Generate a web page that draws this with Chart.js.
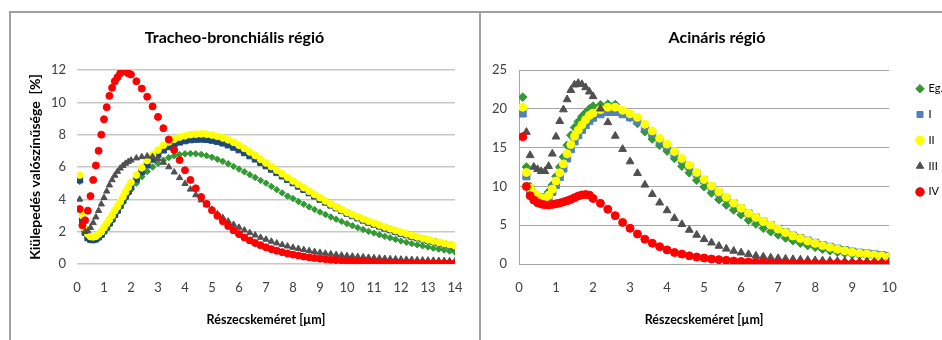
<!DOCTYPE html>
<html><head><meta charset="utf-8">
<script src="https://cdn.jsdelivr.net/npm/chart.js@4.4.1/dist/chart.umd.min.js"></script>
<style>
html,body{margin:0;padding:0;background:#fff;width:942px;height:340px;overflow:hidden;}
.frame{position:absolute;border:2px solid #a0a0a0;border-bottom:none;box-sizing:border-box;}
#f1{left:9px;top:11px;width:472px;height:340px;}
#f2{left:479px;top:11px;width:470px;height:340px;border-right:none;}
canvas{position:absolute;}
#c1{left:10px;top:12px;}
#c2{left:481px;top:12px;}
</style></head>
<body>
<div class="frame" id="f1"></div><div class="frame" id="f2"></div>
<canvas id="c1" width="469" height="328"></canvas>
<canvas id="c2" width="472" height="328"></canvas>
<script>
// ---------- Tracheo-bronchiális régió ----------
const xLeft = [0.1,0.2,0.3,0.4,0.5,0.6,0.7,0.8,0.9,1.0,
  1.1,1.2,1.3,1.4,1.5,1.6,1.7,1.8,1.9,2.0,
  2.2,2.4,2.6,2.8,3.0,3.2,3.4,3.6,3.8,4.0,
  4.2,4.4,4.6,4.8,5.0,5.2,5.4,5.6,5.8,6.0,
  6.2,6.4,6.6,6.8,7.0,7.2,7.4,7.6,7.8,8.0,
  8.2,8.4,8.6,8.8,9.0,9.2,9.4,9.6,9.8,10.0,
  10.2,10.4,10.6,10.8,11.0,11.2,11.4,11.6,11.8,12.0,
  12.2,12.4,12.6,12.8,13.0,13.2,13.4,13.6,13.8,14.0];
const egLeft = [5.1,2.8,2.0,1.65,1.5,1.48,1.52,1.62,1.78,1.98,
  2.2,2.45,2.7,2.97,3.25,3.52,3.8,4.08,4.35,4.6,
  5.0,5.4,5.72,6.0,6.22,6.42,6.58,6.7,6.77,6.82,
  6.83,6.82,6.78,6.7,6.6,6.48,6.35,6.2,6.04,5.87,
  5.7,5.52,5.35,5.17,5.0,4.8,4.6,4.4,4.2,4.05,
  3.87,3.7,3.53,3.37,3.21,3.06,2.91,2.77,2.63,2.5,
  2.37,2.25,2.13,2.02,1.91,1.81,1.71,1.62,1.53,1.42,
  1.34,1.26,1.19,1.12,1.05,0.98,0.92,0.86,0.8,0.75];
const iLeft = [5.2,2.75,1.95,1.62,1.52,1.5,1.55,1.67,1.83,2.05,
  2.28,2.53,2.78,3.06,3.33,3.62,3.92,4.2,4.5,4.8,
  5.25,5.7,6.12,6.48,6.78,7.05,7.25,7.42,7.54,7.62,
  7.68,7.71,7.72,7.7,7.65,7.58,7.48,7.36,7.22,7.06,
  6.88,6.69,6.49,6.28,6.07,5.86,5.65,5.44,5.23,5.02,
  4.81,4.61,4.4,4.2,4.0,3.82,3.64,3.47,3.3,3.14,
  2.99,2.85,2.71,2.58,2.46,2.34,2.22,2.11,2.0,1.9,
  1.8,1.71,1.62,1.54,1.46,1.38,1.3,1.23,1.16,1.05];
const iiLeft = [5.5,3.0,2.2,1.85,1.7,1.68,1.72,1.85,2.0,2.25,
  2.5,2.75,3.0,3.3,3.55,3.85,4.15,4.45,4.75,5.05,
  5.5,5.95,6.4,6.75,7.05,7.35,7.55,7.72,7.85,7.93,
  8.0,8.03,8.05,8.03,7.98,7.9,7.8,7.68,7.53,7.35,
  7.15,6.93,6.71,6.48,6.25,6.03,5.8,5.58,5.36,5.14,
  4.93,4.72,4.5,4.3,4.1,3.9,3.71,3.53,3.36,3.2,
  3.06,2.92,2.78,2.65,2.53,2.41,2.29,2.18,2.07,1.97,
  1.87,1.77,1.68,1.59,1.5,1.42,1.34,1.27,1.2,1.12];
const iiiLeft = [4.0,2.4,2.0,2.05,2.25,2.55,2.9,3.3,3.7,4.1,
  4.5,4.88,5.2,5.48,5.72,5.92,6.08,6.22,6.33,6.42,
  6.55,6.63,6.67,6.64,6.5,6.28,6.0,5.68,5.33,4.97,
  4.62,4.27,3.95,3.65,3.37,3.1,2.86,2.64,2.44,2.26,
  2.09,1.93,1.78,1.64,1.52,1.4,1.29,1.19,1.1,1.02,
  0.95,0.88,0.82,0.76,0.71,0.66,0.62,0.58,0.54,0.51,
  0.48,0.45,0.43,0.4,0.38,0.36,0.34,0.32,0.31,0.29,
  0.28,0.27,0.25,0.24,0.23,0.22,0.21,0.2,0.19,0.18];
const ivLeft = [3.4,2.4,2.7,3.3,4.2,5.2,6.1,7.0,8.0,8.95,
  9.7,10.4,10.9,11.3,11.55,11.8,11.95,11.9,11.8,11.72,
  11.3,10.85,10.35,9.75,9.1,8.4,7.7,7.05,6.43,5.8,
  5.2,4.68,4.15,3.72,3.32,2.98,2.65,2.35,2.08,1.85,
  1.64,1.46,1.3,1.16,1.03,0.92,0.82,0.73,0.65,0.58,
  0.52,0.46,0.41,0.37,0.33,0.3,0.27,0.24,0.22,0.2,
  0.18,0.16,0.15,0.13,0.12,0.11,0.1,0.09,0.08,0.08,
  0.07,0.06,0.06,0.05,0.05,0.05,0.04,0.04,0.04,0.03];

// ---------- Acináris régió ----------
const xRight = [0.1,0.2,0.3,0.4,0.5,0.6,0.7,0.8,0.9,1.0,
  1.1,1.2,1.3,1.4,1.5,1.6,1.7,1.8,1.9,2.0,
  2.2,2.4,2.6,2.8,3.0,3.2,3.4,3.6,3.8,4.0,
  4.2,4.4,4.6,4.8,5.0,5.2,5.4,5.6,5.8,6.0,
  6.2,6.4,6.6,6.8,7.0,7.2,7.4,7.6,7.8,8.0,
  8.2,8.4,8.6,8.8,9.0,9.2,9.4,9.6,9.8,10.0];
const egRight = [21.5,12.5,10.0,9.2,8.8,8.6,8.7,9.3,10.2,11.3,
  12.5,13.8,15.3,16.6,17.6,18.35,19.0,19.5,20.0,20.35,
  20.5,20.6,20.55,19.6,18.9,18.1,17.05,16.1,15.3,14.55,
  13.6,12.6,11.75,10.8,9.95,9.15,8.3,7.6,6.95,6.35,
  5.65,5.15,4.6,4.15,3.75,3.35,3.0,2.68,2.38,2.15,
  1.9,1.7,1.52,1.38,1.25,1.13,1.03,0.94,0.86,0.76];
const iRight = [19.4,11.3,9.5,8.9,8.55,8.35,8.3,8.6,9.3,10.2,
  11.2,12.3,13.6,14.8,15.8,16.6,17.3,17.9,18.45,18.85,
  19.3,19.6,19.6,19.3,18.9,18.45,17.6,16.8,15.9,15.15,
  14.25,13.4,12.55,11.65,10.8,9.95,9.2,8.5,7.8,7.15,
  6.52,5.98,5.46,5.02,4.52,4.08,3.66,3.35,3.02,2.73,
  2.45,2.22,1.98,1.8,1.6,1.46,1.36,1.24,1.14,1.04];
const iiRight = [20.2,11.8,9.8,9.1,8.75,8.5,8.45,8.85,9.65,10.7,
  11.75,12.9,14.2,15.4,16.45,17.25,17.95,18.6,19.15,19.45,
  19.9,20.2,20.2,19.8,19.35,18.9,18.0,17.15,16.2,15.45,
  14.5,13.6,12.75,11.8,10.9,10.05,9.3,8.6,7.85,7.2,
  6.55,6.0,5.47,5.02,4.5,4.05,3.62,3.3,2.96,2.66,
  2.38,2.15,1.9,1.72,1.52,1.38,1.28,1.16,1.06,0.95];
const iiiRight = [16.4,17.0,14.0,12.5,12.2,11.95,11.95,12.6,14.2,16.4,
  18.4,19.9,21.2,22.4,23.1,23.3,23.15,22.75,22.2,21.6,
  20.0,18.25,16.5,14.8,13.2,11.7,10.2,9.0,7.9,6.9,
  5.9,5.12,4.38,3.74,3.18,2.74,2.32,1.95,1.68,1.46,
  1.25,1.05,0.94,0.82,0.73,0.66,0.6,0.55,0.5,0.46,
  0.43,0.4,0.37,0.35,0.33,0.31,0.3,0.28,0.27,0.26];
const ivRight = [16.4,10.0,8.8,8.25,7.9,7.73,7.62,7.6,7.68,7.76,
  7.86,8.0,8.14,8.32,8.55,8.75,8.9,8.96,8.88,8.45,
  7.82,7.05,6.23,5.35,4.6,3.87,3.2,2.68,2.23,1.82,
  1.48,1.28,1.05,0.9,0.77,0.64,0.56,0.47,0.38,0.32,
  0.27,0.23,0.2,0.17,0.15,0.13,0.12,0.11,0.1,0.09,
  0.08,0.07,0.07,0.06,0.06,0.05,0.05,0.05,0.04,0.04];

const seriesLabels = ['Eg.', 'I', 'II', 'III', 'IV'];
const xTicksLeft = [0,1,2,3,4,5,6,7,8,9,10,11,12,13,14];
const yTicksLeft = [0,2,4,6,8,10,12];
const xTicksRight = [0,1,2,3,4,5,6,7,8,9,10];
const yTicksRight = [0,5,10,15,20,25];

const FONT = "Lato, 'Open Sans', sans-serif";
Chart.defaults.font.family = FONT;
Chart.defaults.font.size = 12;
Chart.defaults.color = '#404040';

function pts(xs, ys){ return xs.map((x,i)=>({x:x, y:ys[i]})); }

function makeSets(xs, arrs, st){
  const styles = [
    {ps:'rectRot', c:'#339933'},
    {ps:'rect', c:st.blue},
    {ps:'circle', c:'#ffff00'},
    {ps:'triangle', c:'#505050'},
    {ps:'circle', c:'#ff0000'}
  ];
  return arrs.map((a,i)=>({
    label: seriesLabels[i],
    data: pts(xs, a),
    pointStyle: styles[i].ps,
    pointRadius: st.r[i],
    pointHoverRadius: st.r[i],
    backgroundColor: styles[i].c,
    borderColor: styles[i].c,
    pointBorderWidth: 1,
    order: 5 - i
  }));
}

function ticksFrom(arr){ return function(scale){ scale.ticks = arr.map(v=>({value:v})); }; }

const tickFont = { size: 13 };

new Chart(document.getElementById('c1'), {
  type: 'scatter',
  data: { datasets: makeSets(xLeft, [egLeft, iLeft, iiLeft, iiiLeft, ivLeft], {blue:'#1f497d', r:[3.2,4.2,3.4,3.6,3.5]}) },
  options: {
    responsive: false, animation: false, devicePixelRatio: 1,
    layout: { padding: { left: 0, right: 20, top: 0, bottom: 0 } },
    plugins: {
      legend: { display: false }, tooltip: { enabled: false },
      title: { display: true, text: 'Tracheo-bronchiális régió', color: '#000',
        font: { size: 16, weight: 'bold' }, padding: { top: 16.4, bottom: 22.4 } }
    },
    scales: {
      x: { type: 'linear', min: 0, max: 14, afterBuildTicks: ticksFrom(xTicksLeft),
        ticks: { padding: 16.5, color: '#404040', font: tickFont },
        grid: { display: false, drawTicks: false }, border: { display: false },
        title: { display: true, text: 'Részecskeméret [µm]', color: '#000', font: { size: 12.5, weight: 'bold' }, padding: { top: 0, bottom: 12.5 } },
        afterFit(s){ s.height = 76; } },
      y: { type: 'linear', min: 0, max: 12, afterBuildTicks: ticksFrom(yTicksLeft),
        ticks: { padding: 11, color: '#404040', font: tickFont },
        grid: { color: '#c8c8c8', lineWidth: 1.5, drawTicks: false }, border: { display: false },
        title: { display: true, text: 'Kiülepedés valószínűsége  [%]', color: '#000', font: { size: 14, weight: 'bold' }, padding: { top: 16.6, bottom: 0 } },
        afterFit(s){ s.width = 67; } }
    }
  }
});

new Chart(document.getElementById('c2'), {
  type: 'scatter',
  data: { datasets: makeSets(xRight, [egRight, iRight, iiRight, iiiRight, ivRight], {blue:'#4f81bd', r:[4.3,5.0,4.0,4.5,4.0]}) },
  options: {
    responsive: false, animation: false, devicePixelRatio: 1,
    layout: { padding: { left: 0, right: 0, top: 0, bottom: 0 } },
    plugins: {
      tooltip: { enabled: false },
      legend: { display: true, position: 'right', align: 'start', reverse: true,
        title: { display: true, text: ' ', font: { size: 12 }, padding: { top: 21, bottom: 21 } },
        labels: { usePointStyle: true, boxWidth: 6, boxHeight: 6, padding: 14.8, color: '#000', font: { size: 11 } } },
      title: { display: true, text: 'Acináris régió', color: '#000',
        font: { size: 16, weight: 'bold' }, padding: { top: 16.4, bottom: 22.4 } }
    },
    scales: {
      x: { type: 'linear', min: 0, max: 10, afterBuildTicks: ticksFrom(xTicksRight),
        ticks: { padding: 16.5, color: '#404040', font: tickFont },
        grid: { display: false, drawTicks: false }, border: { display: true, color: '#a6a6a6', width: 1 },
        title: { display: true, text: 'Részecskeméret [µm]', color: '#000', font: { size: 12.5, weight: 'bold' }, padding: { top: 0, bottom: 12.5 } },
        afterFit(s){ s.height = 76; } },
      y: { type: 'linear', min: 0, max: 25, afterBuildTicks: ticksFrom(yTicksRight),
        ticks: { padding: 12, color: '#404040', font: tickFont },
        grid: { color: '#a6a6a6', lineWidth: 1, drawTicks: false }, border: { display: true, color: '#a6a6a6', width: 1 },
        afterFit(s){ s.width = 38; } },
      spacer: { type: 'linear', position: 'right', display: true,
        grid: { display: false, drawTicks: false }, border: { display: false }, ticks: { display: false },
        afterFit(s){ s.width = 13; } }
    }
  }
});
</script>
</body></html>
